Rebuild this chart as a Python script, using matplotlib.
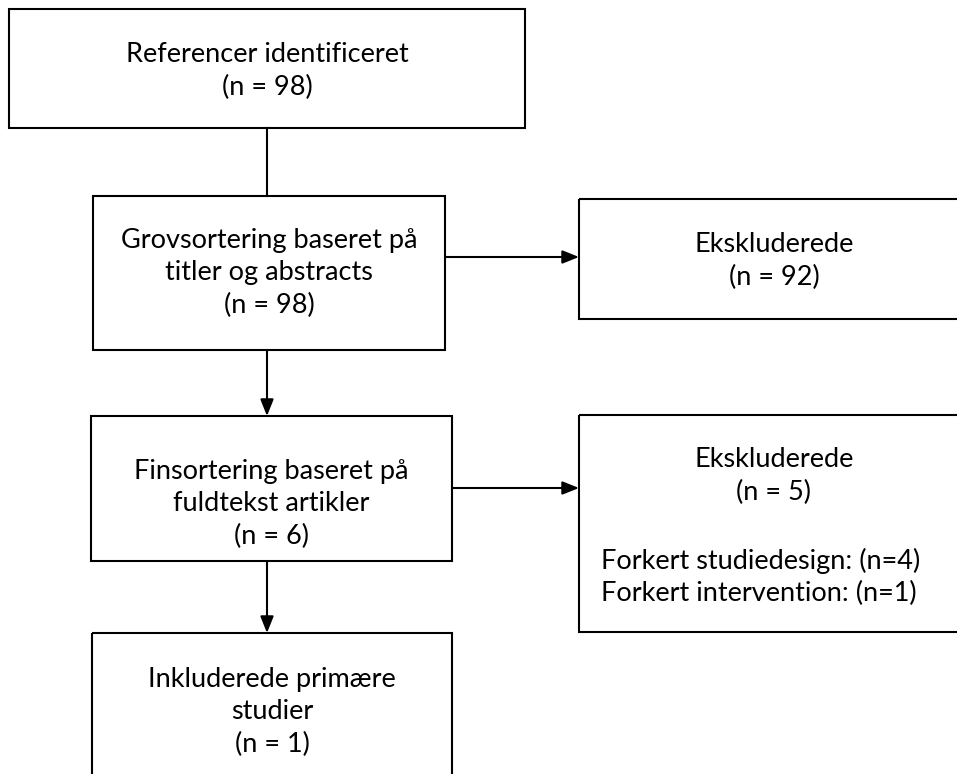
import matplotlib
matplotlib.use("Agg")
import matplotlib.pyplot as plt
from matplotlib.patches import Rectangle

# ---- data ----
stage_titles = ["Referencer identificeret",
                "Grovsortering baseret på\ntitler og abstracts",
                "Finsortering baseret på\nfuldtekst artikler",
                "Inkluderede primære\nstudier"]
stage_counts = [98, 98, 6, 1]
excl_titles = ["Ekskluderede", "Ekskluderede"]
excl_counts = [92, 5]
excl_reasons = [[], ["Forkert studiedesign", "Forkert intervention"]]
excl_reason_counts = [[], [4, 1]]

plt.rcParams['font.family'] = ['Lato', 'DejaVu Sans']

fig = plt.figure(figsize=(9.57, 7.74), dpi=100)
ax = fig.add_axes([0, 0, 1, 1])
ax.set_xlim(0, 957)
ax.set_ylim(774, 0)
ax.axis('off')

LW = 1.5
FS = 19.5
LS = 1.38

# layout boxes (x0, y0, x1, y1)
stage_boxes = [(9, 9, 525, 128), (93, 196, 445, 350), (91, 416, 452, 561), (92, 633, 452, 800)]
excl_boxes = [(579, 199, 980, 319), (579, 415, 980, 632)]

def box(b):
    x0, y0, x1, y1 = b
    ax.add_patch(Rectangle((x0, y0), x1 - x0, y1 - y0, fill=False, ec='black', lw=LW,
                           clip_on=True))

for b in stage_boxes + excl_boxes:
    box(b)

# stage texts
stage_text_y = [71, 273, 504, 712]
for t, n, b, yc in zip(stage_titles, stage_counts, stage_boxes, stage_text_y):
    cx = (b[0] + b[2]) / 2
    ax.text(cx, yc, f"{t}\n(n = {n})", ha='center', va='center', fontsize=FS,
            linespacing=LS, multialignment='center')

# exclusion texts
excl_text_y = [261, 476]
for i, (t, n, b, yc) in enumerate(zip(excl_titles, excl_counts, excl_boxes, excl_text_y)):
    cx = 774
    ax.text(cx, yc, f"{t}\n(n = {n})", ha='center', va='center', fontsize=FS,
            linespacing=LS, multialignment='center')
    if excl_reasons[i]:
        lines = [f"{r}: (n={c})" for r, c in zip(excl_reasons[i], excl_reason_counts[i])]
        ax.text(601, 577, "\n".join(lines), ha='left', va='center', fontsize=FS,
                linespacing=LS)

# connectors
cx = 267
ax.plot([cx, cx], [128, 196], color='black', lw=LW)
arrow = dict(arrowstyle='-|>,head_length=1.0,head_width=0.4', color='black', lw=LW,
             shrinkA=0, shrinkB=0)
ax.annotate('', xy=(cx, 416), xytext=(cx, 350), arrowprops=arrow)
ax.annotate('', xy=(cx, 633), xytext=(cx, 561), arrowprops=arrow)
ax.annotate('', xy=(579, 257), xytext=(445, 257), arrowprops=arrow)
ax.annotate('', xy=(579, 488), xytext=(452, 488), arrowprops=arrow)

fig.savefig('out.png', dpi=100, facecolor='white')
